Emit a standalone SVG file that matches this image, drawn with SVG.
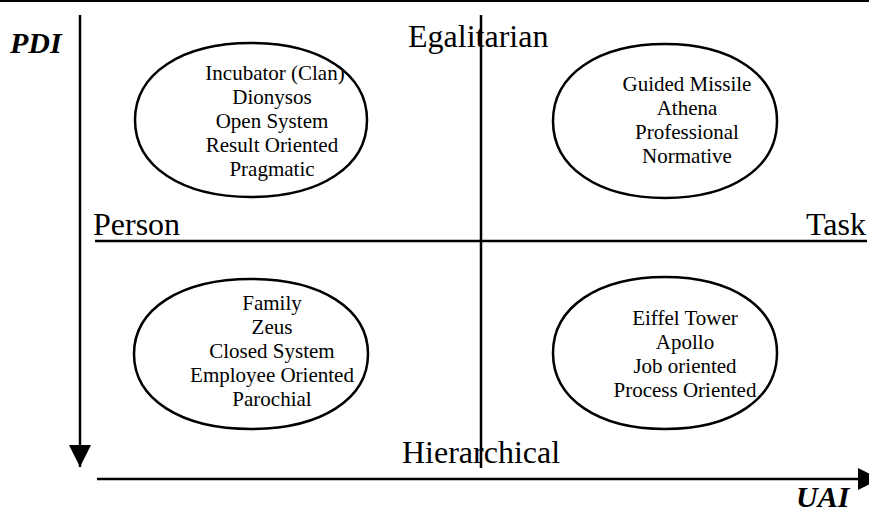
<svg xmlns="http://www.w3.org/2000/svg" width="869" height="512" viewBox="0 0 869 512">
  <style>
    .axis { stroke: #000; stroke-width: 2.5; fill: none; }
    .node path { fill: #fff; stroke: #000; stroke-width: 2.5; }
    .node text { font-family: "Liberation Serif", "Times New Roman", serif; font-size: 21px; fill: #000; text-anchor: middle; }
    .pole { font-family: "Liberation Serif", "Times New Roman", serif; font-size: 32px; fill: #000; }
    .dim { font-family: "Liberation Serif", "Times New Roman", serif; font-size: 30px; font-weight: bold; font-style: italic; fill: #000; }
  </style>
  <defs>
    <marker id="head" viewBox="0 0 22 22" refX="22" refY="11" markerWidth="22" markerHeight="22" markerUnits="userSpaceOnUse" orient="auto">
      <path d="M0,0 L22,11 L0,22 Z" fill="#000"/>
    </marker>
  </defs>

  <rect x="0" y="0" width="869" height="512" fill="#fff"/>

  <!-- page rule along the top -->
  <line x1="0" y1="1" x2="869" y2="1" stroke="#000" stroke-width="2"/>

  <!-- axes and quadrant dividers -->
  <g id="connectors">
    <line class="axis" x1="80" y1="15" x2="80" y2="467" marker-end="url(#head)"/>
    <line class="axis" x1="97" y1="479" x2="880" y2="479" marker-end="url(#head)"/>
    <line class="axis" x1="95" y1="241" x2="867" y2="241"/>
    <line class="axis" x1="481" y1="15" x2="481" y2="468"/>
  </g>

  <!-- axis and pole labels -->
  <text class="dim" x="10" y="53">PDI</text>
  <text class="dim" x="796" y="507">UAI</text>
  <text class="pole" x="408" y="47">Egalitarian</text>
  <text class="pole" x="93" y="235">Person</text>
  <text class="pole" x="806" y="235">Task</text>
  <text class="pole" x="402" y="463">Hierarchical</text>

  <!-- quadrant ovals: slightly fuller than true ellipses -->
  <g id="incubator" class="node">
    <path d="M367,120 C367,166.2 320.6,197 251,197 C181.4,197 135,166.2 135,120 C135,73.8 181.4,43 251,43 C320.6,43 367,73.8 367,120 Z"/>
    <text x="275" y="80">Incubator (Clan)</text>
    <text x="272" y="104">Dionysos</text>
    <text x="272" y="128">Open System</text>
    <text x="272" y="152">Result Oriented</text>
    <text x="272" y="176">Pragmatic</text>
  </g>

  <g id="guided-missile" class="node">
    <path d="M777,121 C777,167.2 732.2,198 665,198 C597.8,198 553,167.2 553,121 C553,74.8 597.8,44 665,44 C732.2,44 777,74.8 777,121 Z"/>
    <text x="687" y="91">Guided Missile</text>
    <text x="687" y="115">Athena</text>
    <text x="687" y="139">Professional</text>
    <text x="687" y="163">Normative</text>
  </g>

  <g id="family" class="node">
    <path d="M368,354 C368,399 321.2,429 251,429 C180.8,429 134,399 134,354 C134,309 180.8,279 251,279 C321.2,279 368,309 368,354 Z"/>
    <text x="272" y="310">Family</text>
    <text x="272" y="334">Zeus</text>
    <text x="272" y="358">Closed System</text>
    <text x="272" y="382">Employee Oriented</text>
    <text x="272" y="406">Parochial</text>
  </g>

  <g id="eiffel-tower" class="node">
    <path d="M777,353 C777,398.6 732.2,429 665,429 C597.8,429 553,398.6 553,353 C553,307.4 597.8,277 665,277 C732.2,277 777,307.4 777,353 Z"/>
    <text x="685" y="325">Eiffel Tower</text>
    <text x="685" y="349">Apollo</text>
    <text x="685" y="373">Job oriented</text>
    <text x="685" y="397">Process Oriented</text>
  </g>
</svg>
